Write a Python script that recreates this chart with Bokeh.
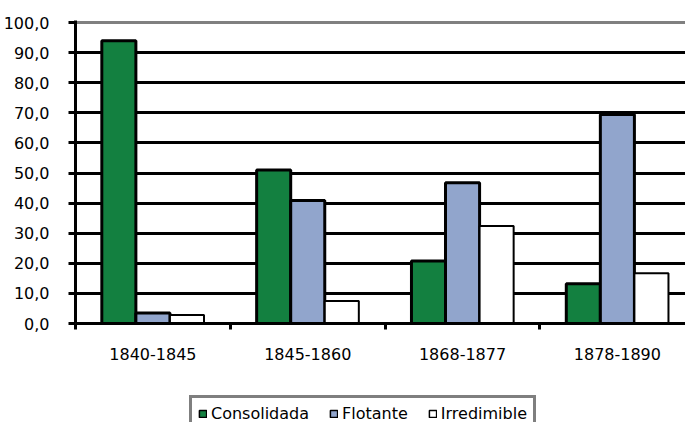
from bokeh.plotting import figure
from bokeh.models import (Range1d, FixedTicker, LinearAxis, Span, Legend, LegendItem,
                          ColumnDataSource, Grid)
from bokeh.layouts import column
from bokeh.embed import file_html
from bokeh.resources import INLINE

categories = ["1840-1845", "1845-1860", "1868-1877", "1878-1890"]
consolidada = [94.0, 51.0, 20.8, 13.2]
flotante = [3.5, 40.9, 46.8, 69.5]
irredimible = [2.8, 7.5, 32.4, 16.7]
y_ticks = [0, 10, 20, 30, 40, 50, 60, 70, 80, 90, 100]
series_names = ["Consolidada", "Flotante", "Irredimible"]
colors = ["#138040", "#91A5CC", "#FFFFFF"]

FONT = "DejaVu Sans"

p = figure(width=685, height=386, output_backend="svg", toolbar_location=None,
           x_range=Range1d(0, 3.94), y_range=Range1d(0, 100.7),
           x_axis_type=None, y_axis_type=None,
           min_border_left=74, min_border_right=0, min_border_top=20, min_border_bottom=63)
p.outline_line_color = None
p.background_fill_color = "white"
p.border_fill_color = "white"

centers = [i + 0.5 for i in range(len(categories))]
bw = 0.22
offsets = [-bw, 0.0, bw]
data = [consolidada, flotante, irredimible]
for k, (vals, col) in enumerate(zip(data, colors)):
    src = ColumnDataSource(dict(x=[c + offsets[k] for c in centers], top=vals))
    p.vbar(x="x", top="top", width=bw, bottom=0, source=src,
           fill_color=col, line_color="black",
           line_width=2 if k == 2 else 3)

# y axis
yax = LinearAxis(ticker=FixedTicker(ticks=y_ticks))
yax.major_label_overrides = {t: f"{t:.1f}".replace(".", ",") for t in y_ticks}
yax.axis_line_width = 3
yax.axis_line_color = "black"
yax.major_tick_line_width = 3
yax.major_tick_out = 7
yax.major_tick_in = 0
yax.minor_tick_line_color = None
yax.major_label_text_font = FONT
yax.major_label_text_font_size = "16px"
yax.major_label_text_color = "black"
yax.major_label_standoff = 19
p.add_layout(yax, "left")

# grid lines
grid = Grid(dimension=1, ticker=FixedTicker(ticks=y_ticks[1:-1]),
            grid_line_color="black", grid_line_width=3)
p.add_layout(grid)
top_line = Span(location=100, dimension="width", line_color="#808080", line_width=3,
                level="underlay")
p.add_layout(top_line)

# x axis
xax = LinearAxis(ticker=FixedTicker(ticks=centers, minor_ticks=[0, 1, 2, 3, 4]))
xax.major_label_overrides = {c: cat for c, cat in zip(centers, categories)}
xax.axis_line_width = 3
xax.axis_line_color = "black"
xax.major_tick_line_color = None
xax.major_tick_out = 0
xax.major_tick_in = 0
xax.minor_tick_line_width = 3
xax.minor_tick_line_color = "black"
xax.minor_tick_out = 6
xax.minor_tick_in = 0
xax.major_label_text_font = FONT
xax.major_label_text_font_size = "16px"
xax.major_label_text_color = "black"
xax.major_label_standoff = 18
p.add_layout(xax, "below")

# legend in a separate strip below the chart; its swatches come from hidden
# copies of the series (hidden renderers still provide legend glyphs)
q = figure(width=685, height=36, output_backend="svg", toolbar_location=None,
           x_range=Range1d(0, 1), y_range=Range1d(0, 1),
           x_axis_type=None, y_axis_type=None,
           min_border_left=0, min_border_right=0, min_border_top=0, min_border_bottom=0)
q.outline_line_color = None
q.grid.visible = False
leg_items = []
for k, (name, vals, col) in enumerate(zip(series_names, data, colors)):
    lsrc = ColumnDataSource(dict(x=[c + offsets[k] for c in centers], top=vals))
    lr = q.vbar(x="x", top="top", width=bw, bottom=0, source=lsrc, fill_color=col,
                line_color="black", line_width=1.5)
    lr.visible = False
    leg_items.append(LegendItem(label=name, renderers=[lr]))
legend = Legend(items=leg_items, orientation="horizontal", location=(114, -10),
                label_text_font=FONT, label_text_font_size="16px",
                label_text_color="black", glyph_width=9, glyph_height=9,
                label_standoff=4, spacing=20, padding=6, margin=0,
                border_line_color="black", border_line_width=3,
                background_fill_alpha=1, click_policy="none")
q.add_layout(legend)

open("out.html", "w").write(file_html(column(p, q, spacing=0), INLINE))
